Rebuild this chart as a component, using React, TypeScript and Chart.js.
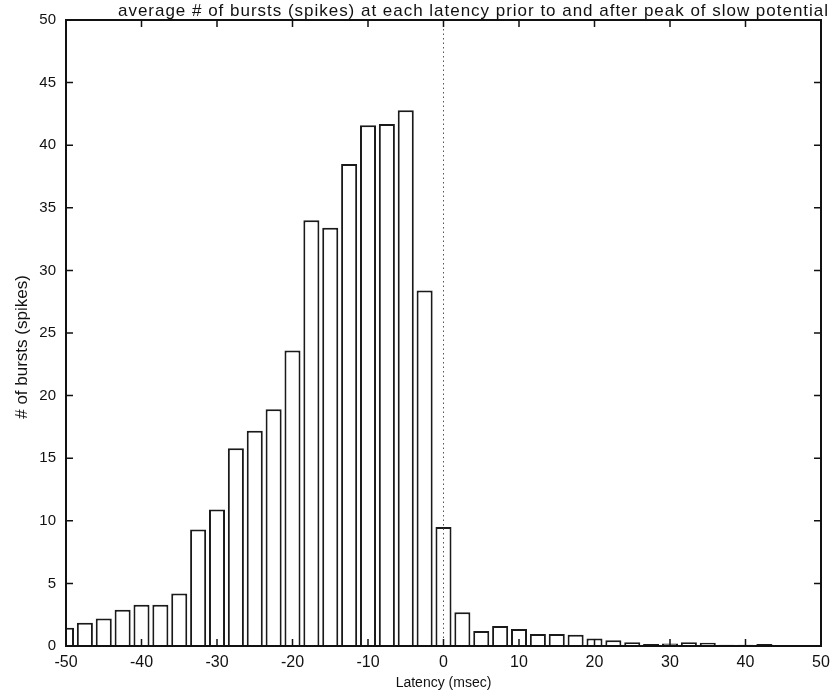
import { useEffect, useRef } from "react";
import { Chart, registerables } from "chart.js";

Chart.register(...registerables);

const latency = [
  -50, -47.5, -45, -42.5, -40, -37.5, -35, -32.5, -30, -27.5, -25, -22.5, -20, -17.5, -15, -12.5, -10, -7.5, -5, -2.5,
  0, 2.5, 5, 7.5, 10, 12.5, 15, 17.5, 20, 22.5, 25, 27.5, 30, 32.5, 35, 37.5, 40, 42.5, 45, 47.5, 50,
];
const bursts = [
  1.45, 1.85, 2.2, 2.9, 3.3, 3.3, 4.2, 9.3, 10.9, 15.8, 17.2, 18.9, 23.6, 34.0, 33.4, 38.5, 41.6, 41.7, 42.8, 28.4,
  9.5, 2.7, 1.2, 1.6, 1.35, 0.95, 0.95, 0.9, 0.6, 0.45, 0.3, 0.15, 0.2, 0.3, 0.25, 0.1, 0.1, 0.15, 0.05, 0.05, 0,
];
const xTicks = [-50, -40, -30, -20, -10, 0, 10, 20, 30, 40, 50];
const yTicks = [0, 5, 10, 15, 20, 25, 30, 35, 40, 45, 50];
const titleText = "average # of bursts (spikes) at each latency prior to and after peak of slow potential";
const xTitle = "Latency (msec)";
const yTitle = "# of bursts (spikes)";

const W = 839;
const H = 692;
const LEFT = 66;
const RIGHT = 821;
const TOP = 20;
const BOTTOM = 646;
const FONT = "'Liberation Sans', Arial, Helvetica, sans-serif";

function spacedText(ctx: CanvasRenderingContext2D, text: string, target: number) {
  const w0 = ctx.measureText(text).width;
  const ls = Math.max(0, (target - w0) / (text.length - 1));
  (ctx as any).letterSpacing = `${ls}px`;
}

export default function App() {
  const ref = useRef<HTMLCanvasElement | null>(null);

  useEffect(() => {
    if (!ref.current) return;
    const framePlugin = {
      id: "matlabFrame",
      afterDatasetsDraw(chart: any) {
        const { ctx, chartArea: a, scales } = chart;
        const x = scales.x;
        const y = scales.y;
        ctx.save();
        // dotted zero line
        const x0 = x.getPixelForValue(0);
        ctx.strokeStyle = "#555";
        ctx.lineWidth = 1;
        ctx.setLineDash([1.5, 3]);
        ctx.beginPath();
        ctx.moveTo(x0, a.top);
        ctx.lineTo(x0, a.bottom);
        ctx.stroke();
        ctx.setLineDash([]);
        // frame
        ctx.strokeStyle = "#111";
        ctx.lineWidth = 2;
        ctx.strokeRect(a.left, a.top, a.right - a.left, a.bottom - a.top);
        // inward ticks
        ctx.lineWidth = 1.5;
        ctx.beginPath();
        for (const v of yTicks) {
          const py = y.getPixelForValue(v);
          ctx.moveTo(a.left, py);
          ctx.lineTo(a.left + 7, py);
          ctx.moveTo(a.right, py);
          ctx.lineTo(a.right - 7, py);
        }
        for (const v of xTicks) {
          const px = x.getPixelForValue(v);
          ctx.moveTo(px, a.bottom);
          ctx.lineTo(px, a.bottom - 7);
          ctx.moveTo(px, a.top);
          ctx.lineTo(px, a.top + 7);
        }
        ctx.stroke();
        // title
        ctx.fillStyle = "#111";
        ctx.font = `17px ${FONT}`;
        spacedText(ctx, titleText, 710);
        ctx.textAlign = "left";
        ctx.textBaseline = "middle";
        ctx.fillText(titleText, 118, 11);
        // y axis title
        ctx.font = `17px ${FONT}`;
        spacedText(ctx, yTitle, 160);
        ctx.translate(22, 347);
        ctx.rotate(-Math.PI / 2);
        ctx.textAlign = "center";
        ctx.fillText(yTitle, 0, 0);
        (ctx as any).letterSpacing = "0px";
        ctx.restore();
      },
    };

    const chart = new Chart(ref.current, {
      type: "bar",
      data: {
        datasets: [
          {
            data: latency.map((v, i) => ({ x: v, y: bursts[i] })),
            backgroundColor: "#ffffff",
            borderColor: "#1a1a1a",
            borderWidth: 2,
            barPercentage: 0.85,
            categoryPercentage: 1,
            clip: 0,
          } as any,
        ],
      },
      options: {
        animation: false,
        responsive: true,
        maintainAspectRatio: false,
        layout: { padding: { left: 0, top: TOP, right: W - RIGHT, bottom: 0 } },
        plugins: {
          legend: { display: false },
          tooltip: { enabled: false },
          title: { display: false },
        },
        scales: {
          x: {
            type: "linear",
            offset: false,
            min: -50,
            max: 50,
            grid: { display: false, drawTicks: false, offset: false },
            border: { display: false },
            afterBuildTicks: (s: any) => {
              s.ticks = xTicks.map((v) => ({ value: v }));
            },
            afterFit: (s: any) => {
              s.height = H - BOTTOM;
            },
            ticks: {
              color: "#111",
              padding: 7,
              maxRotation: 0,
              autoSkip: false,
              font: { family: FONT, size: 16 },
            },
            title: {
              display: true,
              text: xTitle,
              color: "#111",
              font: { family: FONT, size: 14 },
              padding: { top: 0, bottom: 0 },
            },
          },
          y: {
            type: "linear",
            min: 0,
            max: 50,
            grid: { display: false, drawTicks: false },
            border: { display: false },
            afterBuildTicks: (s: any) => {
              s.ticks = yTicks.map((v) => ({ value: v }));
            },
            afterFit: (s: any) => {
              s.width = LEFT;
            },
            ticks: {
              color: "#111",
              padding: 10,
              autoSkip: false,
              font: { family: FONT, size: 15 },
            },
            title: { display: false },
          },
        },
      },
      plugins: [framePlugin],
    });
    return () => chart.destroy();
  }, []);

  return (
    <div style={{ position: "fixed", left: 0, top: 0, width: W, height: H, background: "#fff" }}>
      <canvas ref={ref} />
    </div>
  );
}
